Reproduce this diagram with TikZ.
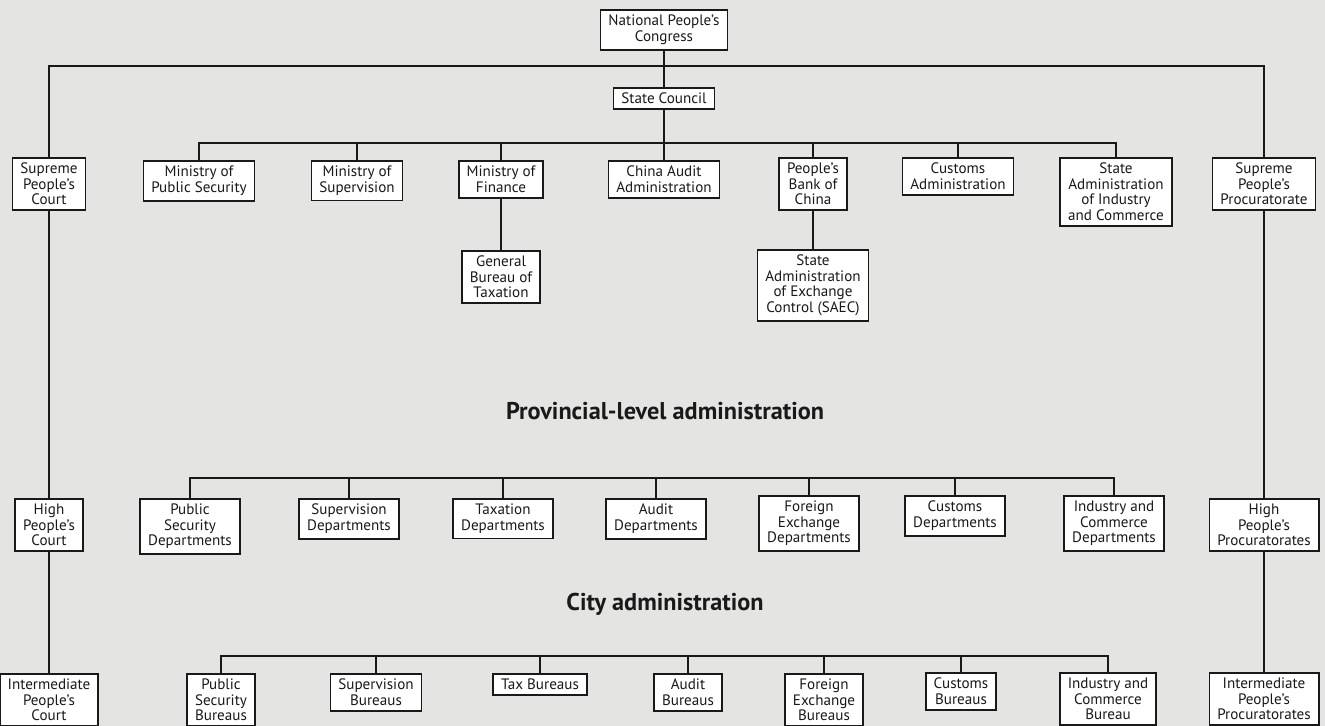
\documentclass[tikz,border=0pt]{standalone}
\usepackage{fontspec}
\setmainfont{PT Sans}
\usetikzlibrary{positioning}

\definecolor{paper}{RGB}{228,228,226}
\definecolor{ink}{RGB}{25,25,25}

\tikzset{
  unit/.style={draw=ink, fill=white, line width=1pt, align=center,
    inner xsep=4.5pt, inner ysep=3pt, text=ink,
    font=\fontsize{8.6}{8.8}\selectfont},
  level/.style={font=\bfseries\fontsize{13.8}{15}\selectfont, text=ink},
  link/.style={draw=ink, line width=1pt}
}

\begin{document}
\begin{tikzpicture}[x=0.02cm, y=-0.02cm]
    \useasboundingbox (0,0) rectangle (1325,726);
    \fill[paper] (0,0) rectangle (1325,726);
    \clip (0,0) rectangle (1325,726);

    % central level
    \node[unit, anchor=north] (NPC) at (664,9)   {National People's\\Congress};
    \node[unit, anchor=north] (SC)  at (664,87)  {State Council};
    \node[unit, anchor=north] (SPC) at (49,157)  {Supreme\\People's\\Court};
    \node[unit, anchor=north] (SPP) at (1264,157) {Supreme\\People's\\Procuratorate};

    \node[unit, anchor=north] (MPS)  at (199,160) {Ministry of\\Public Security};
    \node[unit, anchor=north] (MS)   at (357,160) {Ministry of\\Supervision};
    \node[unit, anchor=north] (MF)   at (501,160) {Ministry of\\Finance};
    \node[unit, anchor=north] (CAA)  at (664,160) {China Audit\\Administration};
    \node[unit, anchor=north] (PBC)  at (813,157) {People's\\Bank of\\China};
    \node[unit, anchor=north] (CA)   at (958,157) {Customs\\Administration};
    \node[unit, anchor=north] (SAIC) at (1116,157) {State\\Administration\\of Industry\\and Commerce};

    \node[unit, anchor=north] (GBT)  at (501,250) {General\\Bureau of\\Taxation};
    \node[unit, anchor=north] (SAEC) at (813,249) {State\\Administration\\of Exchange\\Control (SAEC)};

    % provincial level
    \node[level] (prov) at (665,411) {Provincial-level administration};
    \node[unit, anchor=north] (HPC) at (49,498)   {High\\People's\\Court};
    \node[unit, anchor=north] (HPP) at (1264,498) {High\\People's\\Procuratorates};
    \node[unit, anchor=north] (PSD) at (190,498)  {Public\\Security\\Departments};
    \node[unit, anchor=north] (SD)  at (349,498)  {Supervision\\Departments};
    \node[unit, anchor=north] (TD)  at (503,498)  {Taxation\\Departments};
    \node[unit, anchor=north] (AD)  at (656,498)  {Audit\\Departments};
    \node[unit, anchor=north] (FED) at (809,495)  {Foreign\\Exchange\\Departments};
    \node[unit, anchor=north] (CD)  at (955,495)  {Customs\\Departments};
    \node[unit, anchor=north] (ICD) at (1114,495) {Industry and\\Commerce\\Departments};

    % city level
    \node[level] (city) at (665,604) {City administration};
    \node[unit, anchor=north] (IPC) at (49,673)   {Intermediate\\People's\\Court};
    \node[unit, anchor=north] (IPP) at (1264,672) {Intermediate\\People's\\Procuratorates};
    \node[unit, anchor=north] (PSB) at (221,673)  {Public\\Security\\Bureaus};
    \node[unit, anchor=north] (SB)  at (376,673)  {Supervision\\Bureaus};
    \node[unit, anchor=north] (TB)  at (540,673)  {Tax Bureaus};
    \node[unit, anchor=north] (AB)  at (688,673)  {Audit\\Bureaus};
    \node[unit, anchor=north] (FEB) at (824,673)  {Foreign\\Exchange\\Bureaus};
    \node[unit, anchor=north] (CB)  at (961,672)  {Customs\\Bureaus};
    \node[unit, anchor=north] (ICB) at (1108,672) {Industry and\\Commerce\\Bureau};

    \coordinate (topbar)  at (0,66);
    \coordinate (minbar)  at (0,143);
    \coordinate (provbar) at (0,478);
    \coordinate (citybar) at (0,656);

    % connectors
    \draw[link] (NPC) -- (SC);
    \draw[link] (SC) -- (CAA);
    \draw[link] (SPC.north) |- (topbar -| SPP.north) -- (SPP.north);
    \draw[link] (MPS.north) |- (minbar -| SAIC.north) -- (SAIC.north);
    \foreach \n in {MS, MF, PBC, CA}
        \draw[link] (\n.north) -- (\n.north |- minbar);
    \draw[link] (MF) -- (GBT);
    \draw[link] (PBC) -- (SAEC);

    \draw[link] (SPC) -- (HPC);
    \draw[link] (HPC) -- (IPC);
    \draw[link] (SPP) -- (HPP);
    \draw[link] (HPP) -- (IPP);

    \draw[link] (PSD.north) |- (provbar -| ICD.north) -- (ICD.north);
    \foreach \n in {SD, TD, AD, FED, CD}
        \draw[link] (\n.north) -- (\n.north |- provbar);

    \draw[link] (PSB.north) |- (citybar -| ICB.north) -- (ICB.north);
    \foreach \n in {SB, TB, AB, FEB, CB}
        \draw[link] (\n.north) -- (\n.north |- citybar);

\end{tikzpicture}
\end{document}
